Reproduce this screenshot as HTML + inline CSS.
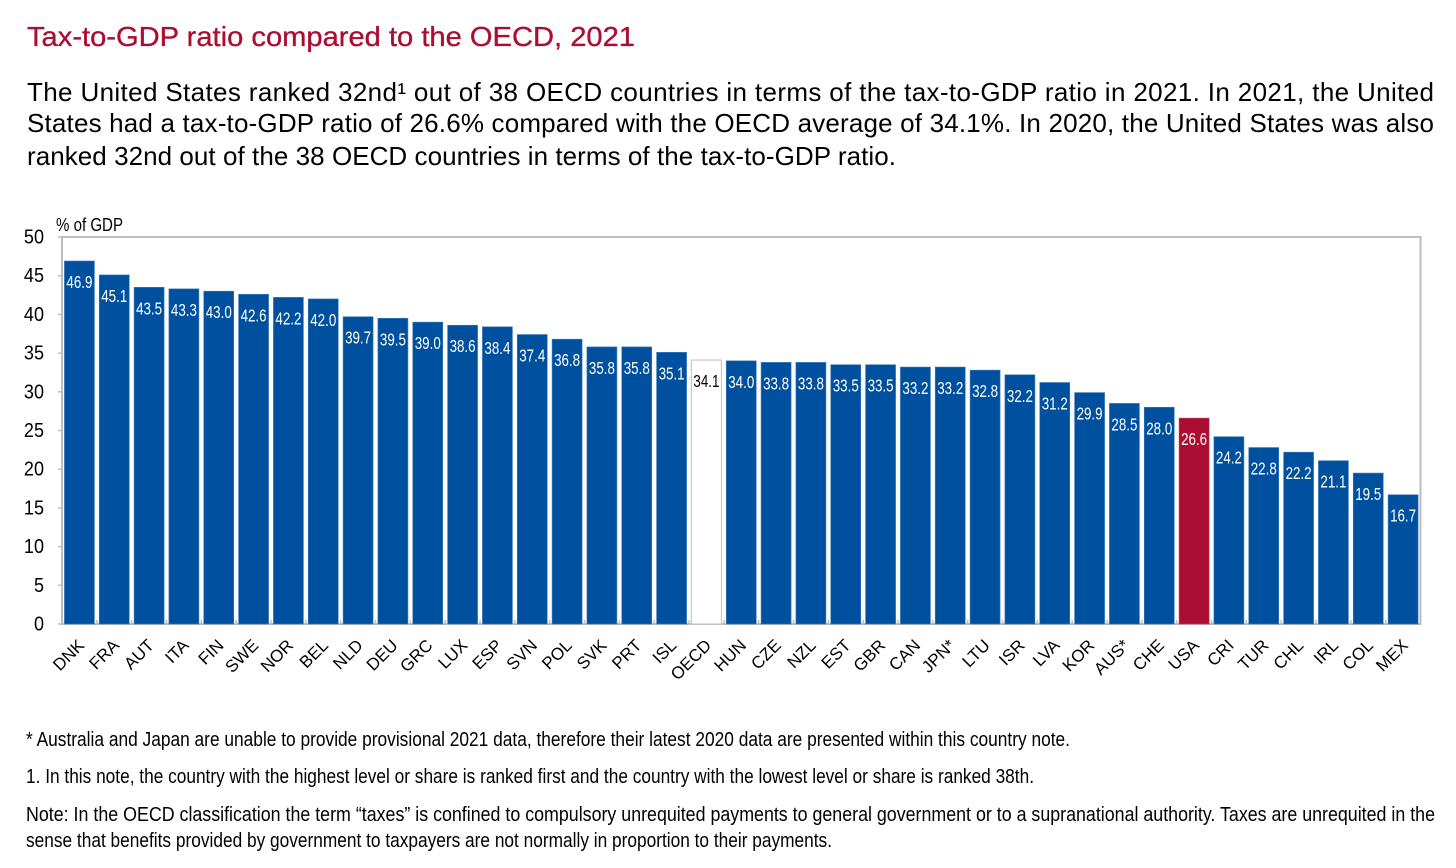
<!DOCTYPE html>
<html lang="en">
<head>
<meta charset="utf-8">
<title>Tax-to-GDP ratio compared to the OECD, 2021</title>
<style>
html,body{margin:0;padding:0;background:#fff;width:1456px;height:868px;overflow:hidden}
svg{display:block;font-family:"Liberation Sans",sans-serif}
</style>
</head>
<body>
<svg id="page" width="1456" height="868" viewBox="0 0 1456 868" xmlns="http://www.w3.org/2000/svg">
  <text x="27" y="46" font-size="28" fill="#ac0e33" stroke="#ac0e33" stroke-width="0.35" textLength="608" lengthAdjust="spacingAndGlyphs">Tax-to-GDP ratio compared to the OECD, 2021</text>

  <g font-size="26" fill="#000">
    <text x="27" y="101" textLength="1407" lengthAdjust="spacing">The United States ranked 32nd¹ out of 38 OECD countries in terms of the tax-to-GDP ratio in 2021. In 2021, the United</text>
    <text x="27" y="132" textLength="1407" lengthAdjust="spacing">States had a tax-to-GDP ratio of 26.6% compared with the OECD average of 34.1%. In 2020, the United States was also</text>
    <text x="27" y="165" textLength="869" lengthAdjust="spacing">ranked 32nd out of the 38 OECD countries in terms of the tax-to-GDP ratio.</text>
  </g>

  <g id="chart">
    <text x="56" y="231" font-size="18" fill="#000" textLength="67" lengthAdjust="spacingAndGlyphs">% of GDP</text>
    <rect x="62" y="237" width="1358.5" height="387" fill="none" stroke="#bdbdbd" stroke-width="2"/>
    <g id="y-axis"></g>
    <g id="x-axis"></g>
    <g id="bars"></g>
  </g>

  <g fill="#000" font-size="20">
    <text x="26" y="746" textLength="1044" lengthAdjust="spacingAndGlyphs">* Australia and Japan are unable to provide provisional 2021 data, therefore their latest 2020 data are presented within this country note.</text>
    <text x="26" y="783" textLength="1008" lengthAdjust="spacingAndGlyphs">1. In this note, the country with the highest level or share is ranked first and the country with the lowest level or share is ranked 38th.</text>
    <text x="26" y="821" textLength="1409" lengthAdjust="spacingAndGlyphs">Note: In the OECD classification the term “taxes” is confined to compulsory unrequited payments to general government or to a supranational authority. Taxes are unrequited in the</text>
    <text x="26" y="847" textLength="806" lengthAdjust="spacingAndGlyphs">sense that benefits provided by government to taxpayers are not normally in proportion to their payments.</text>
  </g>
</svg>
<script>
const categories = ["DNK","FRA","AUT","ITA","FIN","SWE","NOR","BEL","NLD","DEU","GRC","LUX","ESP","SVN","POL","SVK","PRT","ISL","OECD","HUN","CZE","NZL","EST","GBR","CAN","JPN*","LTU","ISR","LVA","KOR","AUS*","CHE","USA","CRI","TUR","CHL","IRL","COL","MEX"];
const values = [46.9,45.1,43.5,43.3,43.0,42.6,42.2,42.0,39.7,39.5,39.0,38.6,38.4,37.4,36.8,35.8,35.8,35.1,34.1,34.0,33.8,33.8,33.5,33.5,33.2,33.2,32.8,32.2,31.2,29.9,28.5,28.0,26.6,24.2,22.8,22.2,21.1,19.5,16.7];
const valueLabels = ["46.9","45.1","43.5","43.3","43.0","42.6","42.2","42.0","39.7","39.5","39.0","38.6","38.4","37.4","36.8","35.8","35.8","35.1","34.1","34.0","33.8","33.8","33.5","33.5","33.2","33.2","32.8","32.2","31.2","29.9","28.5","28.0","26.6","24.2","22.8","22.2","21.1","19.5","16.7"];
const yTicks = [0,5,10,15,20,25,30,35,40,45,50];

const NS = "http://www.w3.org/2000/svg";
const plotLeft = 62, plotRight = 1420.5, plotTop = 237, plotBottom = 624;
const yMax = 50;
const barWidth = 30;
const band = (plotRight - plotLeft) / categories.length;
const yScale = v => plotBottom - (v / yMax) * (plotBottom - plotTop);
const xBand = i => plotLeft + i * band;
const xCenter = i => xBand(i) + band / 2;

function make(tag, attrs, text) {
  const el = document.createElementNS(NS, tag);
  for (const k in attrs) el.setAttribute(k, attrs[k]);
  if (text !== undefined) el.textContent = text;
  return el;
}

const yAxis = document.getElementById("y-axis");
yTicks.forEach(t => {
  const y = yScale(t);
  const tick = make("line", {x1: plotLeft - 4, x2: plotLeft, y1: y, y2: y, stroke: "#bdbdbd", "stroke-width": 1.5});
  
  
  yAxis.appendChild(tick);
  const label = make("text", {x: 44, y: y + 6.5, "text-anchor": "end", "font-size": 20.5, fill: "#000", transform: "translate(44 0) scale(0.88 1) translate(-44 0)"}, String(t));
  
  
  yAxis.appendChild(label);
});

const xAxis = document.getElementById("x-axis");
categories.forEach((c, i) => {
  const tx = xBand(i);
  const tick = make("line", {x1: tx, x2: tx, y1: plotBottom - 4, y2: plotBottom, stroke: "#bdbdbd", "stroke-width": 1.5});
  
  
  xAxis.appendChild(tick);
  const ax = xCenter(i) - 2.5, ay = 638;
  const label = make("text", {
    x: ax, y: ay, "text-anchor": "end", "font-size": 17, fill: "#000",
    transform: "rotate(-45 " + ax + " " + ay + ")", dy: "0.7em"
  }, c);
  
  
  xAxis.appendChild(label);
});

const bars = document.getElementById("bars");
categories.forEach((c, i) => {
  const v = values[i];
  const y = yScale(v);
  const x = xCenter(i) - barWidth / 2;
  const isAvg = c === "OECD", isUS = c === "USA";
  const fill = isAvg ? "#ffffff" : isUS ? "#ac0e33" : "#0050a0";
  const stroke = isAvg ? "#c8c8c8" : isUS ? "#c0395a" : "#3f7cb8";
  const bar = make("rect", {x: x, y: y, width: barWidth, height: plotBottom - y, fill: fill, stroke: stroke, "stroke-width": isAvg ? 1.2 : 0.6});
  
  
  bars.appendChild(bar);
  const label = make("text", {
    x: xCenter(i), y: y + 27, "text-anchor": "middle", "font-size": 17.5,
    fill: isAvg ? "#000" : "#fff", textLength: 26, lengthAdjust: "spacingAndGlyphs"
  }, valueLabels[i]);
  
  
  bars.appendChild(label);
});
</script>
</body>
</html>
